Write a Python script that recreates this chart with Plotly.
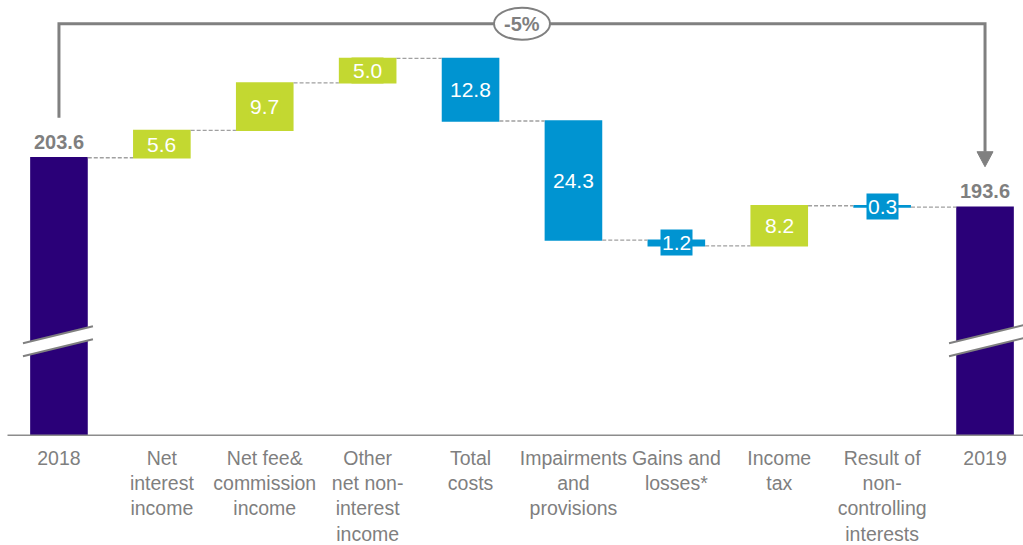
import numpy as np
import plotly.graph_objects as go

# ---------------- data ----------------
categories = ["2018", "Net<br>interest<br>income", "Net fee&<br>commission<br>income",
              "Other<br>net non-<br>interest<br>income", "Total<br>costs",
              "Impairments<br>and<br>provisions", "Gains and<br>losses*", "Income<br>tax",
              "Result of<br>non-<br>controlling<br>interests", "2019"]
start_value = 203.6
end_value = 193.6
changes = [5.6, 9.7, 5.0, -12.8, -24.3, -1.2, 8.2, -0.3]
total_labels = ["203.6", "193.6"]

# ---------------- style ----------------
PURPLE = "#2A0078"
GREEN = "#C3D831"
BLUE = "#0094D1"
GRAY = "#7F7F7F"
FONT = "Liberation Sans, Arial, sans-serif"

W, H = 1023, 545
MB = 109
x_range = [-0.573, 9.369]
y_range = [146.8, 235.8]
XPX = W / (x_range[1] - x_range[0])
YPX = (H - MB) / (y_range[1] - y_range[0])

n = len(categories)
xs = list(range(n))
measures = ["absolute"] + ["relative"] * len(changes) + ["total"]
yvals = [start_value] + changes + [0]

fig = go.Figure()
fig.add_trace(go.Waterfall(
    x=xs, y=yvals, measure=measures, width=0.56,
    increasing=dict(marker=dict(color=GREEN)),
    decreasing=dict(marker=dict(color=BLUE)),
    totals=dict(marker=dict(color=PURPLE)),
    connector=dict(line=dict(color="#A0A0A0", width=1.3, dash="4px,2px"), mode="between"),
    textinfo="none", hoverinfo="skip", showlegend=False,
))

annotations = []
# value labels of changes
cum = start_value + np.concatenate([[0], np.cumsum(changes)])
for i, d in enumerate(changes):
    mid = cum[i] + d / 2
    col = GREEN if d > 0 else BLUE
    annotations.append(dict(x=i + 1, y=mid, text=f"{abs(d):.1f}", showarrow=False,
                            font=dict(family=FONT, size=21, color="white"),
                            bgcolor=col, borderpad=1, xanchor="center", yanchor="middle"))
# total labels
for xi, v, t in [(0, start_value, total_labels[0]), (n - 1, end_value, total_labels[1])]:
    annotations.append(dict(x=xi, y=v, text=f"<b>{t}</b>", showarrow=False,
                            font=dict(family=FONT, size=20, color=GRAY),
                            xanchor="center", yanchor="bottom", yshift=3))

shapes = []
# baseline
shapes.append(dict(type="line", xref="x", yref="y", x0=-0.5, x1=x_range[1],
                   y0=y_range[0] + 0.5 / YPX, y1=y_range[0] + 0.5 / YPX,
                   line=dict(color="#8C8C8C", width=2)))

# bracket
top = start_value + 134 / YPX
left_start = start_value + 40 / YPX
tip = end_value + 40 / YPX
arrow_base = tip + 15 / YPX
shapes.append(dict(type="path", xref="x", yref="y",
                   path=f"M 0,{left_start} L 0,{top} L {n-1},{top} L {n-1},{arrow_base}",
                   line=dict(color="#808080", width=3)))
shapes.append(dict(type="path", xref="x", yref="y",
                   path=f"M {n-1-8/XPX},{arrow_base} L {n-1+8/XPX},{arrow_base} L {n-1},{tip} Z",
                   fillcolor="#808080", line=dict(color="#808080", width=1)))
# ellipse with change %
cx = (n - 1) / 2
shapes.append(dict(type="circle", xref="x", yref="y",
                   x0=cx - 28 / XPX, x1=cx + 28 / XPX,
                   y0=top - 16 / YPX, y1=top + 16 / YPX,
                   fillcolor="white", line=dict(color="#808080", width=2)))
pct = round((end_value / start_value - 1) * 100)
annotations.append(dict(x=cx, y=top, text=f"<b>{pct}%</b>", showarrow=False,
                        font=dict(family=FONT, size=20, color=GRAY),
                        xanchor="center", yanchor="middle"))

# axis-break marks on total bars
yb = 166.2
slope = 17 / 70
for xc, dl, dr in [(0, -36, 34), (n - 1, -36, 40)]:
    def pt(dx, dy):
        return xc + dx / XPX, yb + (dy + dx * slope) / YPX
    a = pt(dl, 6.5); b = pt(dr, 6.5); c = pt(dr, -6.5); d = pt(dl, -6.5)
    shapes.append(dict(type="path", xref="x", yref="y",
                       path=f"M {a[0]},{a[1]} L {b[0]},{b[1]} L {c[0]},{c[1]} L {d[0]},{d[1]} Z",
                       fillcolor="white", line=dict(width=0)))
    for p, q in [(a, b), (d, c)]:
        shapes.append(dict(type="line", xref="x", yref="y", x0=p[0], y0=p[1], x1=q[0], y1=q[1],
                           line=dict(color="#808080", width=2)))

fig.update_layout(
    width=W, height=H,
    margin=dict(l=0, r=0, t=0, b=MB),
    paper_bgcolor="white", plot_bgcolor="white",
    xaxis=dict(range=x_range, tickvals=xs, ticktext=categories, showgrid=False,
               zeroline=False, showline=False, ticks="", ticklabelstandoff=8,
               tickfont=dict(family=FONT, size=19.5, color=GRAY), fixedrange=True),
    yaxis=dict(range=y_range, visible=False, showgrid=False, zeroline=False, fixedrange=True),
    shapes=shapes, annotations=annotations,
    font=dict(family=FONT),
)

fig.write_html("out.html", config={"displayModeBar": False},
               post_script="document.body.style.margin='0';document.body.style.overflow='hidden';")
